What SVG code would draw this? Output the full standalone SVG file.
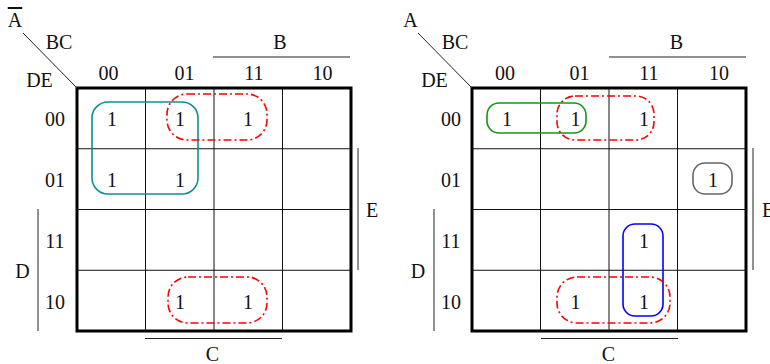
<svg xmlns="http://www.w3.org/2000/svg" width="770" height="364" viewBox="0 0 770 364">
<style>
text{font-family:"Liberation Serif","Times New Roman",serif;font-size:20px;fill:#111;text-anchor:middle}
.grid{stroke:#111;stroke-width:1;fill:none}
.box{stroke:#000;stroke-width:3;fill:none}
.lbl{stroke:#222;stroke-width:1;fill:none}
.loop{fill:none;stroke-width:1.6}
.dd{stroke:#ff0000;stroke-dasharray:8 3 2 3}
</style>
<g id="map-left">
  <g id="left-grid">
    <rect class="box" x="77" y="88" width="274" height="243"/>
    <path class="grid" d="M145.5 88V331M214 88V331M282.5 88V331M77 148.75H351M77 209.5H351M77 270.25H351"/>
    <line class="lbl" x1="23" y1="33" x2="77" y2="88"/>
  </g>
  <g id="left-labels">
    <text x="15" y="27"><tspan text-decoration="overline">A</tspan></text>
    <text x="59" y="49">BC</text>
    <text x="39.5" y="87">DE</text>
    <text x="108.5" y="80">00</text>
    <text x="184.5" y="80">01</text>
    <text x="254" y="80">11</text>
    <text x="322.5" y="80">10</text>
    <text x="55" y="126">00</text>
    <text x="55" y="187">01</text>
    <text x="55" y="248">11</text>
    <text x="55" y="309">10</text>
    <text x="280" y="49">B</text>
    <line class="lbl" x1="213" y1="57" x2="350" y2="57"/>
    <text x="372" y="217">E</text>
    <line class="lbl" x1="358" y1="148" x2="358" y2="270"/>
    <text x="22.5" y="278">D</text>
    <line class="lbl" x1="38" y1="209" x2="38" y2="331"/>
    <text x="212.5" y="361">C</text>
    <line class="lbl" x1="145" y1="338.5" x2="282" y2="338.5"/>
  </g>
  <g id="left-cells">
    <text x="112" y="126">1</text>
    <text x="180" y="126">1</text>
    <text x="248" y="126">1</text>
    <text x="112" y="187">1</text>
    <text x="180" y="187">1</text>
    <text x="180" y="309">1</text>
    <text x="248" y="309">1</text>
  </g>
  <g id="left-loops">
    <rect class="loop" stroke="#0e9090" x="92" y="102" width="106" height="92" rx="16"/>
    <rect class="loop dd" x="167" y="94" width="100" height="46" rx="20"/>
    <rect class="loop dd" x="168" y="277" width="99" height="46" rx="20"/>
  </g>
</g>
<g id="map-right">
  <g id="right-grid">
    <rect class="box" x="472" y="88" width="274" height="243"/>
    <path class="grid" d="M540.5 88V331M609 88V331M677.5 88V331M472 148.75H746M472 209.5H746M472 270.25H746"/>
    <line class="lbl" x1="418" y1="33" x2="472" y2="88"/>
  </g>
  <g id="right-labels">
    <text x="410.5" y="27">A</text>
    <text x="455" y="49">BC</text>
    <text x="434.5" y="87">DE</text>
    <text x="505" y="80">00</text>
    <text x="579.5" y="80">01</text>
    <text x="649" y="80">11</text>
    <text x="719" y="80">10</text>
    <text x="451" y="126">00</text>
    <text x="451" y="187">01</text>
    <text x="451" y="248">11</text>
    <text x="451" y="309">10</text>
    <text x="676.5" y="49">B</text>
    <line class="lbl" x1="609" y1="57" x2="746" y2="57"/>
    <text x="768" y="217">E</text>
    <line class="lbl" x1="753" y1="148" x2="753" y2="270"/>
    <text x="418" y="278">D</text>
    <line class="lbl" x1="434" y1="209" x2="434" y2="331"/>
    <text x="608.5" y="361">C</text>
    <line class="lbl" x1="541" y1="338.5" x2="678" y2="338.5"/>
  </g>
  <g id="right-cells">
    <text x="507" y="126">1</text>
    <text x="575.5" y="126">1</text>
    <text x="644" y="126">1</text>
    <text x="713" y="187">1</text>
    <text x="644" y="248">1</text>
    <text x="575.5" y="309">1</text>
    <text x="644" y="309">1</text>
  </g>
  <g id="right-loops">
    <rect class="loop" stroke="#129612" x="487" y="103" width="99" height="30" rx="12"/>
    <rect class="loop dd" x="557" y="96" width="97" height="44" rx="18"/>
    <rect class="loop" stroke="#666" x="693" y="163" width="39" height="31" rx="12"/>
    <rect class="loop" stroke="#0000ff" x="623" y="224" width="40" height="92" rx="12"/>
    <rect class="loop dd" x="557" y="277" width="113" height="46" rx="20"/>
  </g>
</g>
</svg>
